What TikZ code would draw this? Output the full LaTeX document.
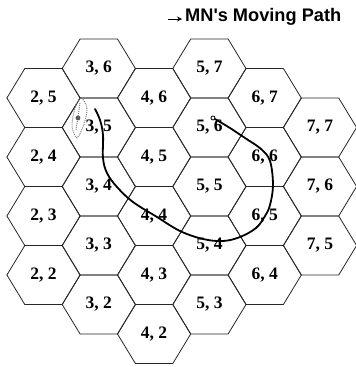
\documentclass[tikz,border=0pt]{standalone}
\usepackage{fontspec}
\setmainfont{Liberation Serif}
\newfontfamily\legendfont{Liberation Sans}
\usetikzlibrary{arrows.meta}
\begin{document}
\begin{tikzpicture}[x=1pt,y=-1pt,
  cell/.style={draw=black!85, line width=0.8pt, line join=miter},
  celllabel/.style={font=\bfseries\fontsize{17.5}{17.5}\selectfont, inner sep=0pt},
  movepath/.style={line width=1.8pt, line cap=round, line join=round}]
\useasboundingbox (0,0) rectangle (356,367);
\foreach \c/\r in {2/2,2/3,2/4,2/5,3/2,3/3,3/4,3/5,3/6,4/2,4/3,4/4,4/5,4/6,5/3,5/4,5/5,5/6,5/7,6/4,6/5,6/6,6/7,7/5,7/6,7/7}{
  \pgfmathsetmacro{\X}{43.5+55.3*(\c-2)}
  \pgfmathsetmacro{\Y}{334-59*\r+29.5*\c}
  \draw[cell] (\X,\Y) +(-36.6,0) -- +(-18.7,-29.5) -- +(18.7,-29.5) -- +(36.6,0) -- +(18.7,29.5) -- +(-18.7,29.5) -- cycle;
  \node[celllabel] (h\c\r) at (\X,\Y) {\c, \r};
}
% moving path
\coordinate (pstart) at (213,118);
\coordinate (pend) at (95,109);
\draw[line width=0.8pt] (pstart) circle (2);
\draw[movepath] plot[smooth, tension=0.6] coordinates {(215,119) (230,128) (245,138) (261,149) (270,161) (273,185) (270,205) (265,216) (256,228) (240,237) (223,241) (203,239) (180,231) (157,217) (133,202) (117,187) (107,173) (103,158) (103,135) (100,120) (95,109)};
% faint dotted smear
\draw[black!50, densely dotted, line width=1pt] plot[smooth cycle] coordinates {(81,98) (87,108) (84,124) (77,138) (72,126) (75,108)};
\draw[black!50, densely dotted, line width=1pt] (80,103) -- (76,130);
\fill[black!65] (78,118) circle (2.4);
% legend
\coordinate (la) at (168,19);
\coordinate (lb) at (182,19);
\draw[line width=1pt, -{Stealth[length=5pt,width=5pt]}] (la) -- (lb);
\node[anchor=west, inner sep=0pt, font=\legendfont\bfseries\fontsize{18.2}{18.2}\selectfont] (legend) at (185,17) {MN's Moving Path};
\end{tikzpicture}
\end{document}
